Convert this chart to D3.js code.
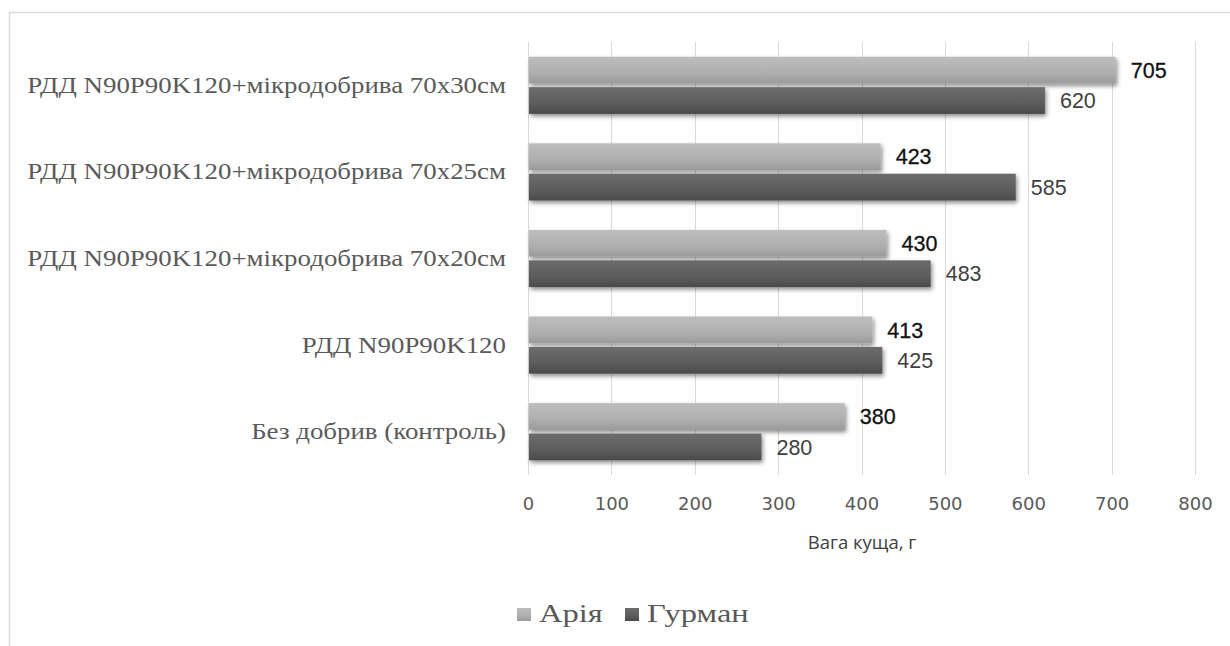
<!DOCTYPE html>
<html><head><meta charset="utf-8">
<script src="https://cdn.jsdelivr.net/npm/d3@7"></script>
<style>body{margin:0;background:#fff}</style>
</head><body>
<svg id="c" width="1230" height="646"></svg>
<script>
const categories = [
  "РДД N90P90K120+мікродобрива 70х30см",
  "РДД N90P90K120+мікродобрива 70х25см",
  "РДД N90P90K120+мікродобрива 70х20см",
  "РДД N90P90K120",
  "Без добрив (контроль)"
];
const seriesNames = ["Арія", "Гурман"];
const ariaValues = [705, 423, 430, 413, 380];
const gurmanValues = [620, 585, 483, 425, 280];
const tickValues = [0, 100, 200, 300, 400, 500, 600, 700, 800];
const axisTitle = "Вага куща, г";

const svg = d3.select("#c");
const defs = svg.append("defs");
function grad(id, c1, c2, c3) {
  const g = defs.append("linearGradient").attr("id", id).attr("x1",0).attr("y1",0).attr("x2",0).attr("y2",1);
  g.append("stop").attr("offset","0%").attr("stop-color",c1);
  g.append("stop").attr("offset","60%").attr("stop-color",c2);
  g.append("stop").attr("offset","100%").attr("stop-color",c3);
}
grad("gA", "#bdbdbd", "#afafaf", "#9a9a9a");
grad("gG", "#6c6c6c", "#5d5d5d", "#4a4a4a");
const f = defs.append("filter").attr("id","sh").attr("x","-5%").attr("y","-30%").attr("width","115%").attr("height","180%");
f.append("feDropShadow").attr("dx",1.5).attr("dy",2.5).attr("stdDeviation",2).attr("flood-color","#000").attr("flood-opacity",0.45);

// chart frame
svg.append("line").attr("x1",9).attr("x2",1230).attr("y1",12.5).attr("y2",12.5).attr("stroke","#d9d9d9").attr("stroke-width",1.5);
svg.append("line").attr("x1",9.5).attr("x2",9.5).attr("y1",12).attr("y2",646).attr("stroke","#d9d9d9").attr("stroke-width",1.5);

const x = d3.scaleLinear().domain([0, 800]).range([528, 1195]);
const y = d3.scaleBand().domain(categories).range([42, 475]).paddingInner(0.34).paddingOuter(0.17);
const sub = d3.scaleBand().domain(seriesNames).range([0, y.bandwidth()]).paddingInner(0.12);

// gridlines
svg.append("g").selectAll("line").data(tickValues).join("line")
  .attr("x1", d => Math.round(x(d)) + 0.5).attr("x2", d => Math.round(x(d)) + 0.5)
  .attr("y1", 42).attr("y2", 475)
  .attr("stroke", "#d9d9d9").attr("stroke-width", 1);

// axis labels
const xAxis = d3.axisBottom(x).tickValues(tickValues).tickSize(0).tickPadding(0);
const ax = svg.append("g").attr("transform", "translate(0,504)").call(xAxis);
ax.select(".domain").remove();
ax.selectAll("text").attr("font-family","'DejaVu Sans', sans-serif").attr("font-size",18).attr("fill","#595959").attr("dy","0.36em");

// category labels
const yAxis = d3.axisLeft(y).tickSize(0).tickPadding(0);
const ay = svg.append("g").attr("transform","translate(506,0)").call(yAxis);
ay.select(".domain").remove();
ay.selectAll("text").attr("font-family","'Liberation Serif', serif").attr("font-size",22.7).attr("fill","#5a5a5a")
  .attr("dy","0.33em").attr("transform","scale(1.185,1)");

// bars
const data = categories.map((c, i) => ({c, vals: [ {s: seriesNames[0], v: ariaValues[i]}, {s: seriesNames[1], v: gurmanValues[i]} ]}));
const groups = svg.append("g").selectAll("g").data(data).join("g")
  .attr("transform", d => `translate(0,${y(d.c)})`);
groups.selectAll("rect").data(d => d.vals).join("rect")
  .attr("x", x(0)+1).attr("y", d => sub(d.s))
  .attr("width", d => x(d.v) - x(0) - 1).attr("height", sub.bandwidth())
  .attr("fill", d => d.s === seriesNames[0] ? "url(#gA)" : "url(#gG)")
  .attr("filter", "url(#sh)");
groups.selectAll("text").data(d => d.vals).join("text")
  .attr("x", d => x(d.v) + 15).attr("y", d => sub(d.s) + sub.bandwidth()/2)
  .attr("dy","0.36em")
  .attr("font-family","'Liberation Sans', sans-serif")
  .attr("font-size",21.5)
  .attr("fill", d => d.s === seriesNames[0] ? "#111" : "#404040")
  .attr("stroke", d => d.s === seriesNames[0] ? "#111" : "none")
  .attr("stroke-width", 0.3)
  .text(d => d.v);

// axis title
svg.append("text").attr("x", 862).attr("y", 542).attr("text-anchor","middle").attr("dy","0.36em")
  .attr("font-family","'Open Sans', sans-serif").attr("font-size",18.5).attr("fill","#404040")
  .text(axisTitle);

// legend
const legX = [517, 625];
const lg = svg.append("g").selectAll("g").data(seriesNames).join("g")
  .attr("transform", (d, i) => `translate(${legX[i]},614)`);
lg.append("rect").attr("x",0).attr("y",-6).attr("width",14).attr("height",13)
  .attr("fill", (d,i) => i === 0 ? "url(#gA)" : "url(#gG)");
lg.append("text").attr("x",0).attr("y",0).attr("dy","0.33em")
  .attr("transform","translate(22,0) scale(1.27,1)")
  .attr("font-family","'Liberation Serif', serif").attr("font-size",25.6).attr("fill","#595959").text(d => d);
</script>
</body></html>
